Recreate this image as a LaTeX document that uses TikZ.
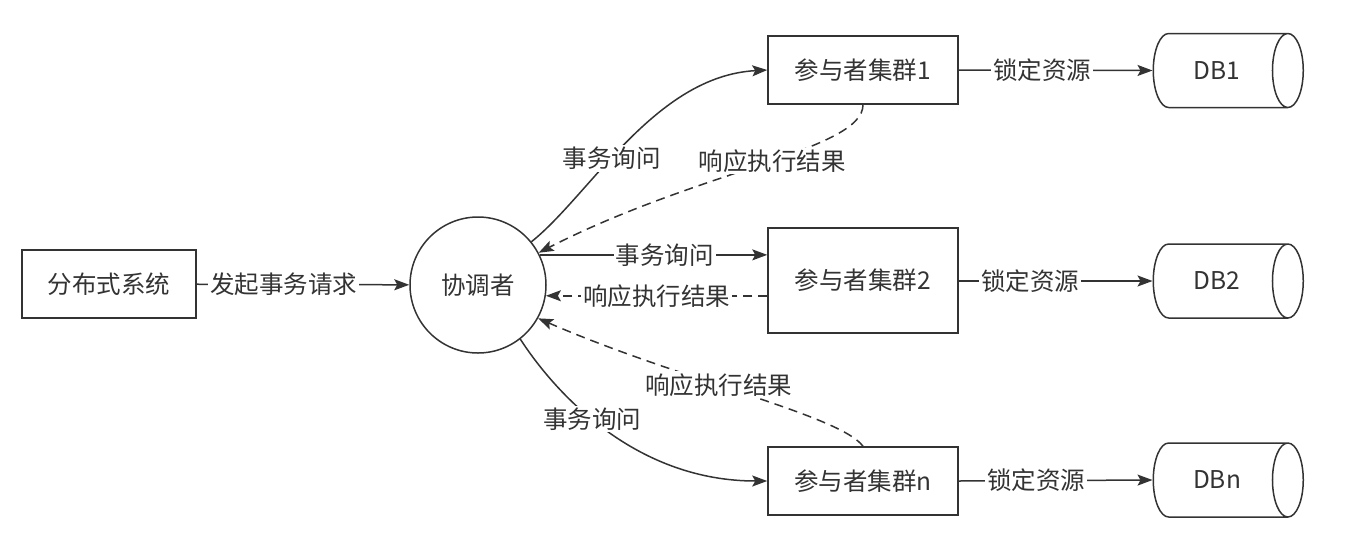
\documentclass[tikz,border=0pt]{standalone}
\usepackage{fontspec}
\setmainfont{Noto Sans CJK SC}
\usetikzlibrary{shapes.geometric,arrows.meta}
\definecolor{ink}{HTML}{333333}
\tikzset{
  box/.style={draw=ink,line width=1.5pt,rectangle,minimum width=190pt,minimum height=68pt,text=ink,font=\fontsize{24.5}{28}\selectfont},
  hub/.style={draw=ink,line width=1.5pt,circle,minimum size=136pt,text=ink,font=\fontsize{24.5}{28}\selectfont},
  db/.style={draw=ink,line width=1.5pt,cylinder,shape aspect=1.25,minimum width=74pt,minimum height=150pt,text=ink,font=\fontsize{24.5}{28}\selectfont},
  conn/.style={draw=ink,line width=1.5pt,-{Stealth[length=15pt,width=11pt,inset=3pt]}},
  lbl/.style={fill=white,text=ink,inner sep=2pt,font=\fontsize{24.5}{28}\selectfont},
}
\begin{document}
\begin{tikzpicture}[x=1pt,y=-1pt]
\useasboundingbox (0,0) rectangle (1358,558);
\node[box,minimum width=174pt] (src) at (109,284) {分布式系统};
\node[hub] (co) at (478,285) {协调者};
\node[box] (b1) at (863,70) {参与者集群1};
\node[box,minimum height=105pt] (b2) at (863,280.5) {参与者集群2};
\node[box] (bn) at (863,481) {参与者集群n};
\node[db] (d1) at (1217,70.5) {DB1};
\node[db] (d2) at (1217,281) {DB2};
\node[db] (dn) at (1217,480) {DBn};

\draw[conn] (src) -- node[lbl,pos=0.41] (l0) {发起事务请求} (co);

\draw[conn] (co.39) .. controls (590,195) and (655,76) .. node[lbl,pos=0.42] (l1) {事务询问} (b1.west);
\draw[conn,dashed,dash pattern=on 9pt off 6pt] (b1.south) .. controls (863,150) and (700,170) .. node[lbl,pos=0.47] (l2) {响应执行结果} (co.28);

\draw[conn] (co.26) -- node[lbl,pos=0.55] (l3) {事务询问} (co.26 -| b2.west);
\draw[conn,dashed,dash pattern=on 9pt off 6pt] (co.-9 -| b2.west) -- node[lbl,pos=0.5] (l4) {响应执行结果} (co.-9);

\draw[conn] (co.-52) .. controls (560,400) and (640,481) .. node[lbl,pos=0.42] (l5) {事务询问} (bn.west);
\draw[conn,dashed,dash pattern=on 9pt off 6pt] (bn.north) .. controls (840,415) and (680,380) .. node[lbl,pos=0.57] (l6) {响应执行结果} (co.-29);

\draw[conn] (b1.east) -- node[lbl,pos=0.43] (l7) {锁定资源} (d1.west);
\draw[conn] (b2.east |- d2.west) -- node[lbl,pos=0.37] (l8) {锁定资源} (d2.west);
\draw[conn] (bn.east) -- node[lbl,pos=0.4] (l9) {锁定资源} (dn.west);
\end{tikzpicture}
\end{document}
